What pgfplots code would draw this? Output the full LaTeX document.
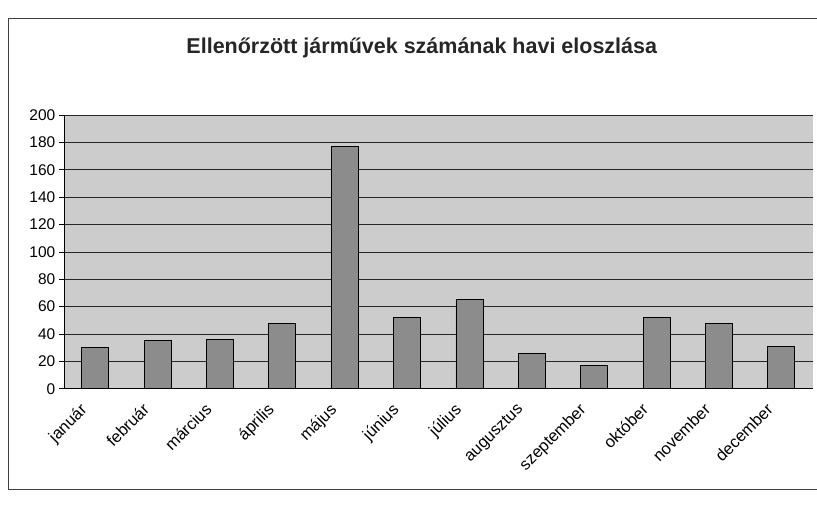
\documentclass[border=0pt]{standalone}
\usepackage{pgfplots}
\pgfplotsset{compat=1.18}
\usepackage{fontspec}
\setmainfont{Liberation Sans}
\begin{document}
\begin{tikzpicture}[x=1pt,y=1pt]
\fill[white] (0,0) rectangle (817,518);
\draw[black!75, line width=0.9pt] (817,500) -- (8,500) -- (8,28) -- (817,28);
\node[font=\bfseries\fontsize{21.5}{24}\selectfont, text=black!85] at (422,470) {Ellenőrzött járművek számának havi eloszlása};
\begin{axis}[
  at={(64pt,129pt)}, anchor=south west, scale only axis,
  width=749pt, height=274pt,
  ymin=0, ymax=200, ytick={0,20,...,200},
  xmin=-0.5, xmax=11.5,
  axis x line*=bottom, axis y line*=left,
  axis line style={black, line width=0.8pt, -},
  axis background/.style={fill=black!20},
  ymajorgrids, major grid style={black!85, line width=0.7pt},
  tick style={black, line width=0.7pt},
  major tick length=5pt,
  tick align=outside,
  xtick={0,...,11}, 
  xticklabels={január,február,március,április,május,június,július,augusztus,szeptember,október,november,december},
  x tick style={draw=none},
  extra x ticks={-0.5,0.5,...,11.5},
  extra x tick labels={},
  extra x tick style={tick style={black, line width=0.7pt}, major tick length=5pt},
  x tick label style={rotate=45, anchor=north east, font=\fontsize{16.5}{18}\selectfont, inner sep=1pt, xshift=-16pt, yshift=6.5pt},
  y tick label style={font=\fontsize{15.5}{17}\selectfont, inner sep=3.5pt},
  /pgf/number format/assume math mode=true,
]
\addplot[ybar, bar width=27pt, fill=black!45, draw=black, line width=0.8pt]
  coordinates {(0,30) (1,35) (2,36) (3,48) (4,177) (5,52) (6,65) (7,26) (8,17) (9,52) (10,48) (11,31)};
\end{axis}
\end{tikzpicture}
\end{document}
